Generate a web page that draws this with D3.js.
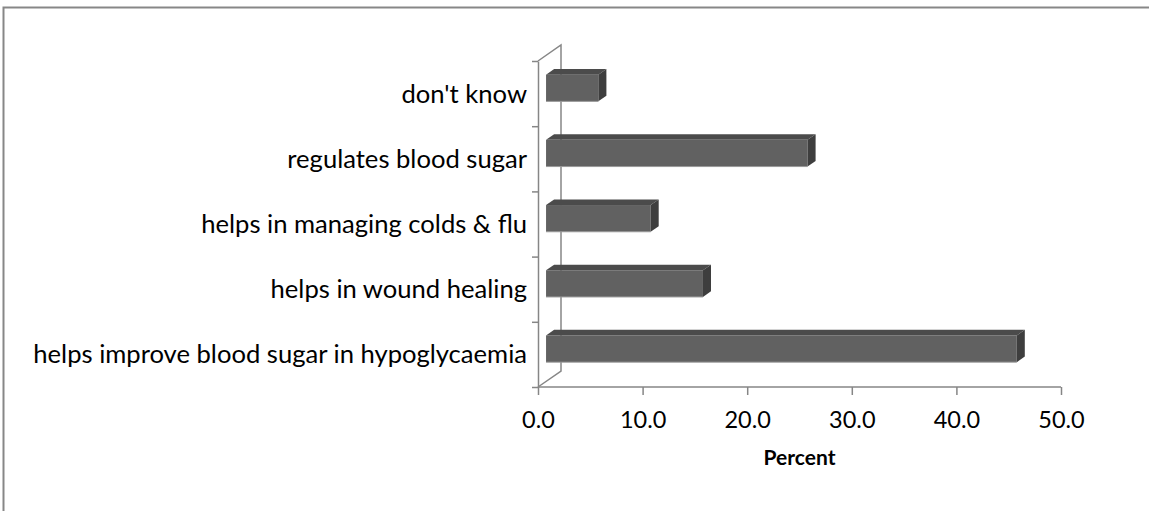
<!DOCTYPE html>
<html>
<head>
<meta charset="utf-8">
<script src="https://cdn.jsdelivr.net/npm/d3@7"></script>
<style>
  html, body { margin: 0; padding: 0; background: #fff; }
  text { font-family: Lato, "Open Sans", sans-serif; fill: #000; }
</style>
</head>
<body>
<div id="app"></div>
<script>
// data (top to bottom)
const categories = ["don't know", "regulates blood sugar", "helps in managing colds & flu", "helps in wound healing", "helps improve blood sugar in hypoglycaemia"];
const percents = [5.0, 25.0, 10.0, 15.0, 45.0];
const xTicks = [0, 10, 20, 30, 40, 50];
const xTitle = "Percent";

let width = 1149, height = 511;
let svg = d3.select('#app').append('svg').attr('width', width).attr('height', height);

// chart frame (only top and left edges show in the picture)
svg.append('path')
    .attr('d', 'M3.5,' + height + ' L3.5,7.5 L' + width + ',7.5')
    .attr('fill', 'none').attr('stroke', '#878787').attr('stroke-width', 2);

let x = d3.scaleLinear().domain([0, 50]).range([538, 1061]);
let y = d3.scaleBand().domain(categories).range([61, 387]);
let yEdge = d3.scaleLinear().domain([0, categories.length]).range([387, 61]);

// 3d depth of the floor/wall, and where the bars sit in it
const depth = [23, -16];
const barFront = 0.35, barDepth = 0.35;
const fx = depth[0] * barFront, fy = depth[1] * barFront;
const dx = depth[0] * barDepth, dy = depth[1] * barDepth;
const barH = y.bandwidth() * 0.41;

let axisColor = '#868686';

// back wall edge
svg.append('path')
    .attr('d', 'M' + x(0) + ',' + yEdge(categories.length) + ' l' + depth[0] + ',' + depth[1] +
        ' L' + (x(0) + depth[0]) + ',' + (yEdge(0) + depth[1]) + ' L' + x(0) + ',' + yEdge(0))
    .attr('fill', 'none').attr('stroke', axisColor).attr('stroke-width', 1.5);

// left (category) axis with edge ticks
let gy = svg.append('g').attr('transform', 'translate(' + x(0) + ',0)')
    .call(d3.axisLeft(yEdge).tickValues(d3.range(categories.length + 1)).tickFormat('').tickSize(6).tickSizeOuter(0));
gy.selectAll('line, path').attr('stroke', axisColor).attr('stroke-width', 1.5);

// bottom value axis
let gx = svg.append('g').attr('transform', 'translate(0,' + yEdge(0) + ')')
    .call(d3.axisBottom(x).tickValues(xTicks).tickFormat(d3.format('.1f')).tickSize(8).tickSizeOuter(0));
gx.selectAll('line, path').attr('stroke', axisColor).attr('stroke-width', 1.5);
gx.select('.domain').attr('d', 'M' + x(0) + ',0H' + x(50));
gx.selectAll('text').attr('y', 24).attr('dy', '0.71em').style('font-size', '23.5px').attr('fill', '#000');

// bars
let bars = svg.selectAll('.bar').data(categories).enter().append('g').classed('bar', true);
bars.each(function (c, i) {
    let g = d3.select(this);
    let x0 = x(0) + fx, x1 = x(percents[i]) + fx;
    let yc = y(c) + y.bandwidth() / 2 + fy;
    let yt = yc - barH / 2, yb = yc + barH / 2;
    // top face
    g.append('path').attr('fill', '#4b4b4b')
        .attr('d', `M${x0},${yt} L${x0 + dx},${yt + dy} L${x1 + dx},${yt + dy} L${x1},${yt} Z`);
    // front face
    g.append('rect').attr('fill', '#616161')
        .attr('x', x0).attr('y', yt).attr('width', x1 - x0).attr('height', barH);
    // right side
    g.append('path').attr('fill', '#3e3e3e')
        .attr('d', `M${x1},${yt} L${x1 + dx},${yt + dy} L${x1 + dx},${yb + dy} L${x1},${yb} Z`);
    // light bottom edge
    g.append('line').attr('x1', x0).attr('x2', x1).attr('y1', yb).attr('y2', yb)
        .attr('stroke', '#9a9a9a').attr('stroke-width', 1);
});

// category labels
svg.selectAll('.cat').data(categories).enter().append('text').classed('cat', true)
    .attr('x', 527)
    .attr('y', d => y(d) + y.bandwidth() / 2)
    .attr('dy', '0.35em')
    .attr('text-anchor', 'end')
    .style('font-size', '25.6px')
    .text(d => d);

// axis title
svg.append('text')
    .attr('x', (x(0) + x(50)) / 2).attr('y', 458)
    .attr('dy', '0.35em')
    .attr('text-anchor', 'middle')
    .style('font-size', '21px').style('font-weight', 'bold')
    .text(xTitle);
</script>
</body>
</html>
